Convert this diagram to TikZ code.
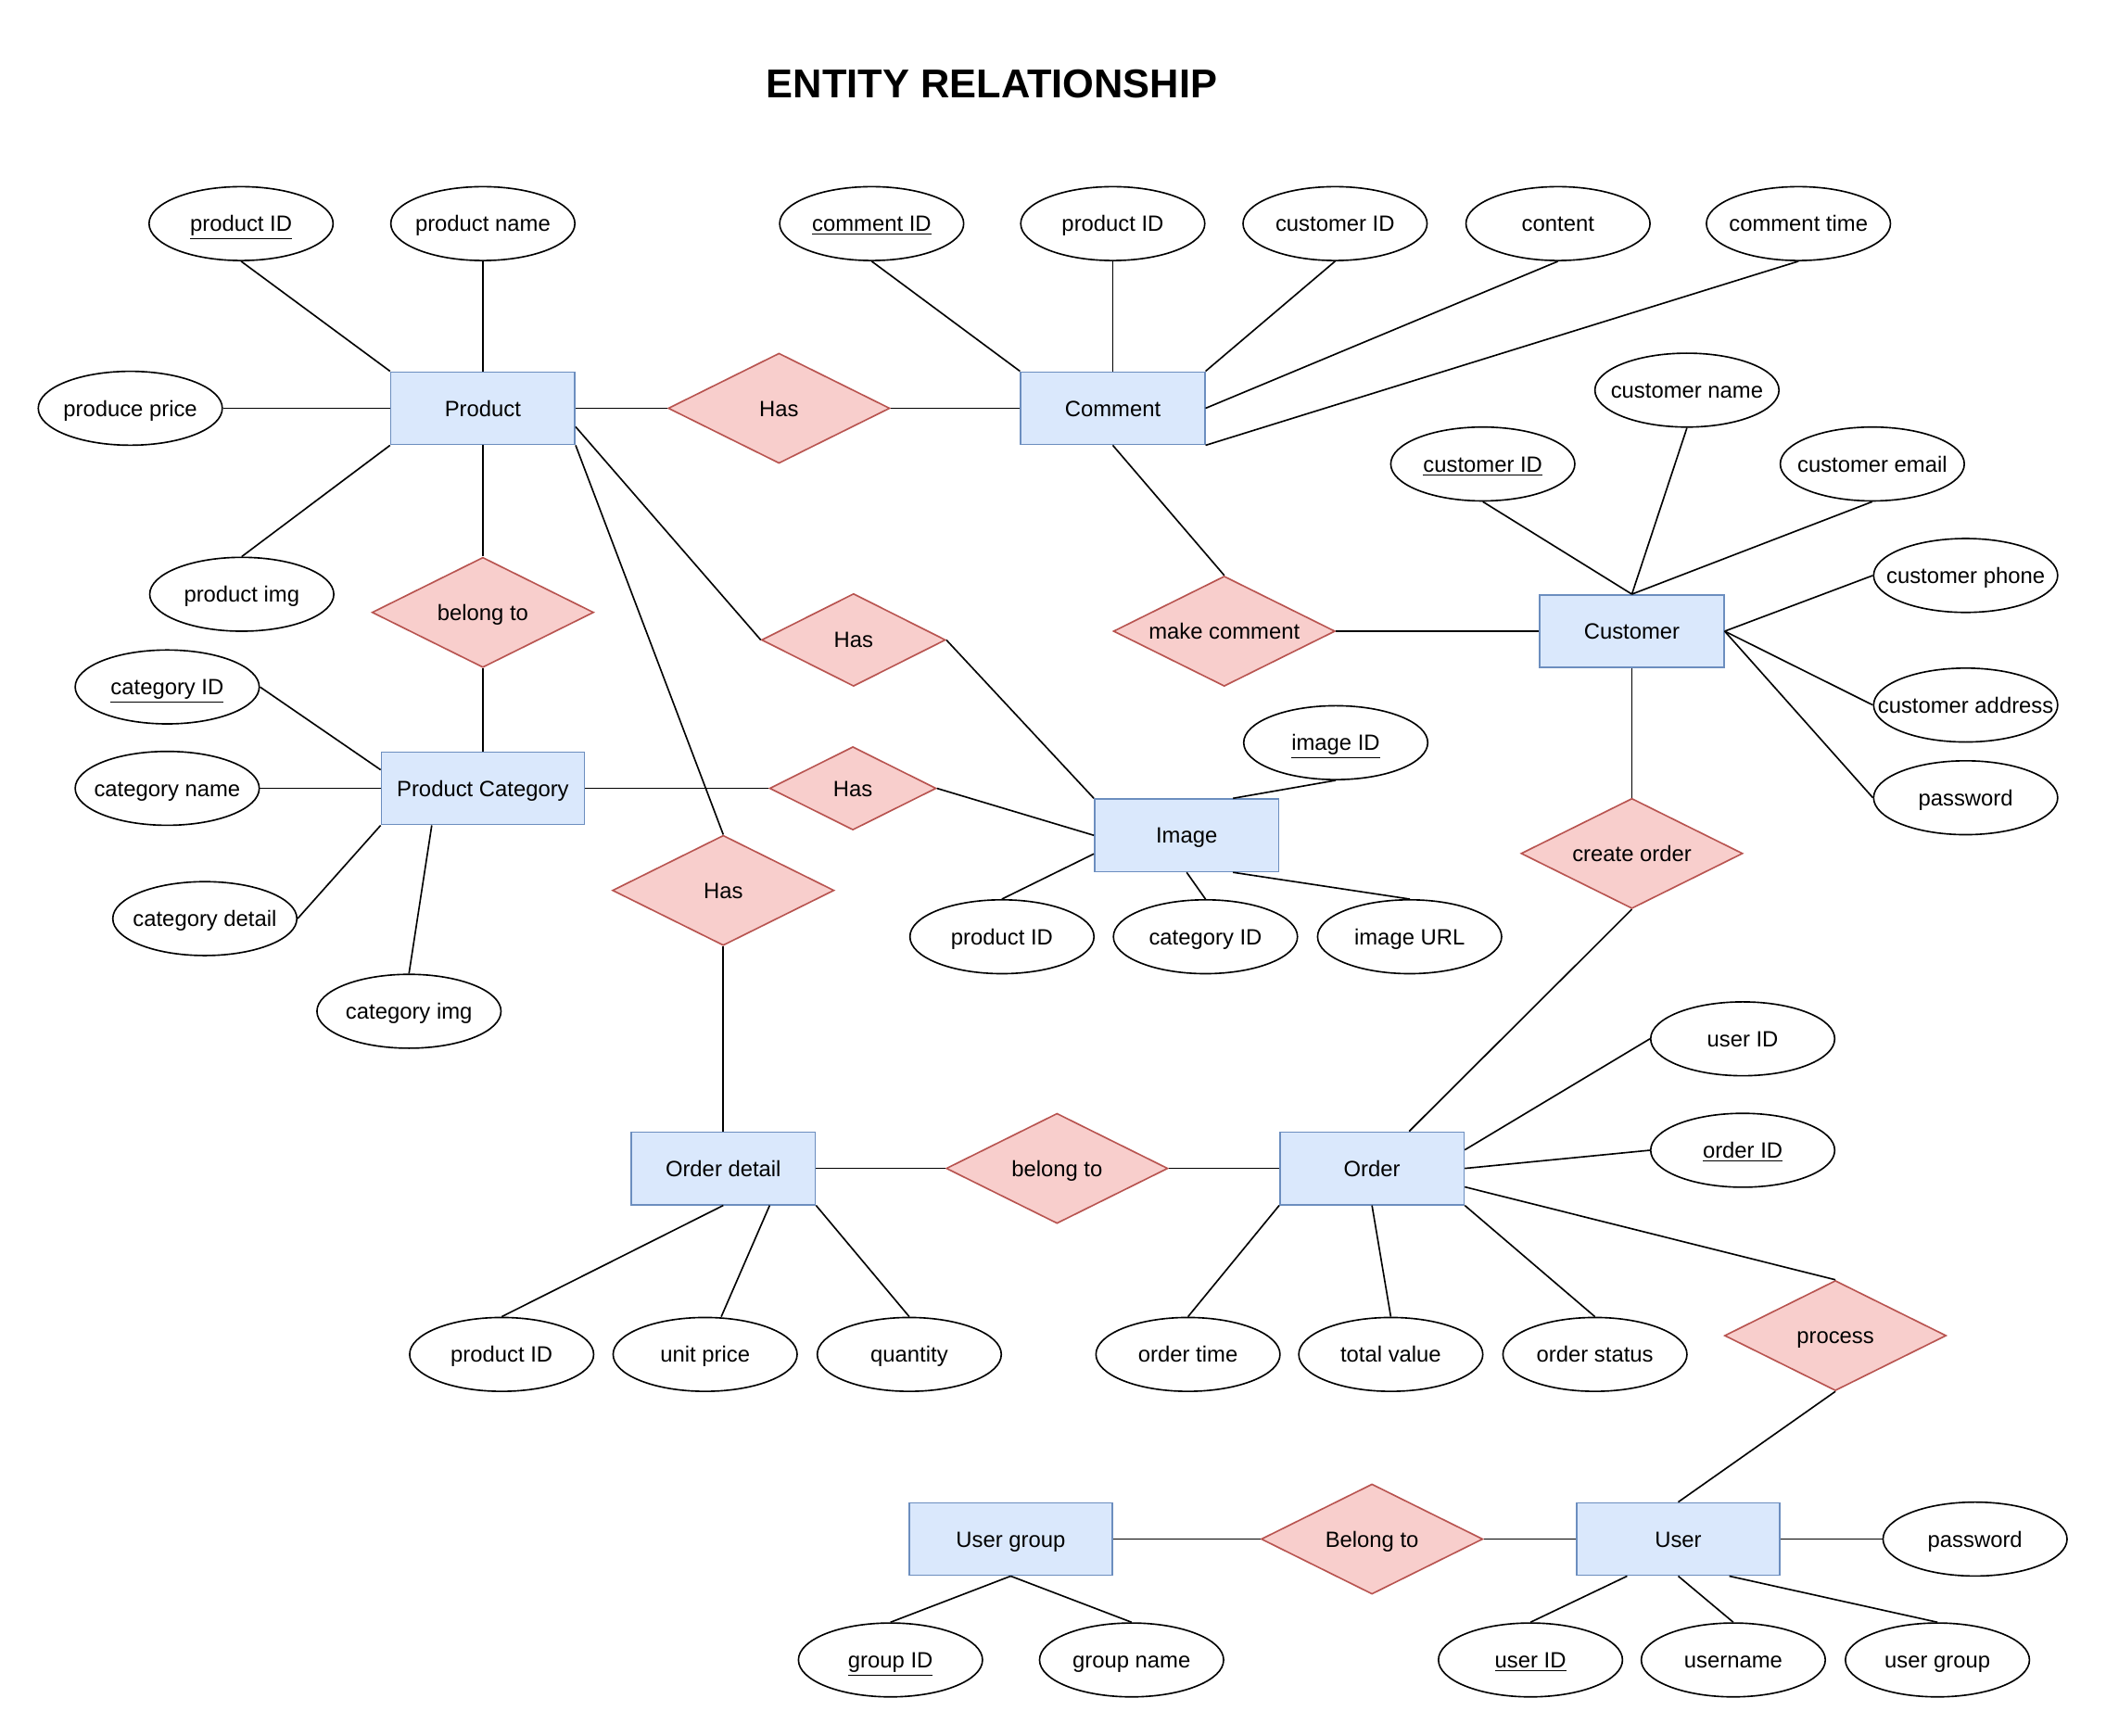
\documentclass[tikz,border=0pt]{standalone}
\usepackage{fontspec}
\setmainfont{Liberation Sans}
\usepackage{tikz}
\usetikzlibrary{shapes.geometric,calc}
\definecolor{entfill}{HTML}{DAE8FC}
\definecolor{entdraw}{HTML}{6C8EBF}
\definecolor{relfill}{HTML}{F8CECC}
\definecolor{reldraw}{HTML}{B85450}

\begin{document}
\begin{tikzpicture}[x=0.025cm, y=-0.025cm, line width=0.8pt,
    every node/.style={font=\fontsize{11.7}{14}\selectfont, inner sep=0pt,
      text height=8.4pt, text depth=0pt,
      execute at begin node=\hbox to 0pt\bgroup\hss, execute at end node=\hss\egroup},
    entity/.style={rectangle, draw=entdraw, fill=entfill, minimum width=3.425cm, minimum height=1.35cm},
    wide/.style={minimum width=3.775cm},
    relation/.style={diamond, draw=reldraw, fill=relfill, minimum width=4.125cm, minimum height=2.05cm},
    attr/.style={ellipse, draw, minimum width=3.425cm, minimum height=1.375cm}]
    \useasboundingbox (0,0) rectangle (1568,1292);

    \node[text height=15.3pt] (title) at (738.5,62) {\fontsize{21.3}{24}\selectfont\bfseries ENTITY RELATIONSHIP};

    % entities
    \node[entity] (product) at (359.5,304) {Product};
    \node[entity] (comment) at (828.5,304) {Comment};
    \node[entity] (customer) at (1215,470) {Customer};
    \node[entity, wide] (category) at (359.5,587) {Product Category};
    \node[entity] (image) at (883.5,622) {Image};
    \node[entity] (detail) at (538.5,870) {Order detail};
    \node[entity] (order) at (1021.5,870) {Order};
    \node[entity, wide] (group) at (752.5,1146) {User group};
    \node[entity, wide] (user) at (1249.5,1146) {User};

    % relations
    \node[relation] (hascom) at (580,304) {Has};
    \node[relation] (belcat) at (359.5,456) {belong to};
    \node[relation, minimum width=3.425cm, minimum height=1.725cm] (hasimg) at (635.5,476.5) {Has};
    \node[relation] (make) at (911.5,470) {make comment};
    \node[relation, minimum width=3.1cm, minimum height=1.55cm] (hascatimg) at (635,587) {Has};
    \node[relation] (hasdet) at (538.5,663) {Has};
    \node[relation] (create) at (1215,635.5) {create order};
    \node[relation] (beldet) at (787,870) {belong to};
    \node[relation] (process) at (1366.5,994.5) {process};
    \node[relation] (belgrp) at (1021.5,1146) {Belong to};

    % product attributes
    \node[attr] (pid) at (179.5,166.5) {\underline{product ID}};
    \node[attr] (pname) at (359.5,166.5) {product name};
    \node[attr] (pprice) at (97,304) {produce price};
    \node[attr] (pimg) at (180,442.5) {product img};

    % comment attributes
    \node[attr] (cmid) at (649,166.5) {\underline{comment ID}};
    \node[attr] (cmpid) at (828.5,166.5) {product ID};
    \node[attr] (cmcid) at (994,166.5) {customer ID};
    \node[attr] (cmtext) at (1160,166.5) {content};
    \node[attr] (cmtime) at (1339,166.5) {comment time};

    % customer attributes
    \node[attr] (cuname) at (1256,290.5) {customer name};
    \node[attr] (cuid) at (1104,345.5) {\underline{customer ID}};
    \node[attr] (cumail) at (1394,345.5) {customer email};
    \node[attr] (cuphone) at (1463.5,428.5) {customer phone};
    \node[attr] (cuaddr) at (1463.5,525) {customer address};
    \node[attr] (cupass) at (1463.5,594) {password};

    % category attributes
    \node[attr] (caid) at (124.5,511.5) {\underline{category ID}};
    \node[attr] (caname) at (124.5,587) {category name};
    \node[attr] (cadetail) at (152.5,684) {category detail};
    \node[attr] (caimg) at (304.5,753) {category img};

    % image attributes
    \node[attr] (imid) at (994.5,553) {\underline{image ID}};
    \node[attr] (impid) at (746,697.5) {product ID};
    \node[attr] (imcid) at (897.5,697.5) {category ID};
    \node[attr] (imurl) at (1049.5,697.5) {image URL};

    % order attributes
    \node[attr] (ouid) at (1297.5,773.5) {user ID};
    \node[attr] (oid) at (1297.5,856.5) {\underline{order ID}};
    \node[attr] (otime) at (884.5,1008.5) {order time};
    \node[attr] (ovalue) at (1035.5,1008.5) {total value};
    \node[attr] (ostatus) at (1187.5,1008.5) {order status};

    % order detail attributes
    \node[attr] (dpid) at (373.5,1008.5) {product ID};
    \node[attr] (dprice) at (525,1008.5) {unit price};
    \node[attr] (dqty) at (677,1008.5) {quantity};

    % user and group attributes
    \node[attr] (upass) at (1470.5,1146) {password};
    \node[attr] (uid) at (1139.5,1236) {\underline{user ID}};
    \node[attr] (uname) at (1290.5,1236) {username};
    \node[attr] (ugroup) at (1442.5,1236) {user group};
    \node[attr] (gid) at (663,1236) {\underline{group ID}};
    \node[attr] (gname) at (842.5,1236) {group name};

    % links
    \draw (pid.south) -- (product.north west);
    \draw (pname.south) -- (product.north);
    \draw (pprice.east) -- (product.west);
    \draw (pimg.north) -- (product.south west);
    \draw (product.east) -- (hascom.west);
    \draw (hascom.east) -- (comment.west);
    \draw (product.south) -- (belcat.north);
    \draw (belcat.south) -- (category.north);
    \draw ($(product.north east)!0.75!(product.south east)$) -- (hasimg.west);
    \draw (hasimg.east) -- (image.north west);
    \draw (product.south east) -- (hasdet.north);
    \draw (hasdet.south) -- (detail.north);

    \draw (cmid.south) -- (comment.north west);
    \draw (cmpid.south) -- (comment.north);
    \draw (cmcid.south) -- (comment.north east);
    \draw (cmtext.south) -- (comment.east);
    \draw (cmtime.south) -- (comment.south east);
    \draw (comment.south) -- (make.north);
    \draw (make.east) -- (customer.west);

    \draw (cuid.south) -- (customer.north);
    \draw (cuname.south) -- (customer.north);
    \draw (cumail.south) -- (customer.north);
    \draw (cuphone.west) -- (customer.east);
    \draw (cuaddr.west) -- (customer.east);
    \draw (cupass.west) -- (customer.east);
    \draw (customer.south) -- (create.north);
    \draw (create.south) -- ($(order.north west)!0.7!(order.north east)$);

    \draw (caid.east) -- ($(category.north west)!0.25!(category.south west)$);
    \draw (caname.east) -- (category.west);
    \draw (cadetail.east) -- (category.south west);
    \draw (caimg.north) -- ($(category.south west)!0.25!(category.south east)$);
    \draw (category.east) -- (hascatimg.west);
    \draw (hascatimg.east) -- (image.west);

    \draw (imid.south) -- ($(image.north west)!0.75!(image.north east)$);
    \draw (impid.north) -- ($(image.north west)!0.75!(image.south west)$);
    \draw (imcid.north) -- (image.south);
    \draw (imurl.north) -- ($(image.south west)!0.75!(image.south east)$);

    \draw (detail.east) -- (beldet.west);
    \draw (beldet.east) -- (order.west);
    \draw (detail.south) -- (dpid.north);
    \draw ($(detail.south west)!0.75!(detail.south east)$) -- ($(dprice.north)+(12,0)$);
    \draw (detail.south east) -- (dqty.north);

    \draw (order.south west) -- (otime.north);
    \draw (order.south) -- (ovalue.north);
    \draw (order.south east) -- (ostatus.north);
    \draw (ouid.west) -- ($(order.north east)!0.25!(order.south east)$);
    \draw (oid.west) -- (order.east);
    \draw (process.north) -- ($(order.north east)!0.75!(order.south east)$);
    \draw (process.south) -- (user.north);

    \draw (user.west) -- (belgrp.east);
    \draw (belgrp.west) -- (group.east);
    \draw (user.east) -- (upass.west);
    \draw ($(user.south west)!0.25!(user.south east)$) -- (uid.north);
    \draw (user.south) -- (uname.north);
    \draw ($(user.south west)!0.75!(user.south east)$) -- (ugroup.north);
    \draw (group.south) -- (gid.north);
    \draw (group.south) -- (gname.north);
\end{tikzpicture}
\end{document}
